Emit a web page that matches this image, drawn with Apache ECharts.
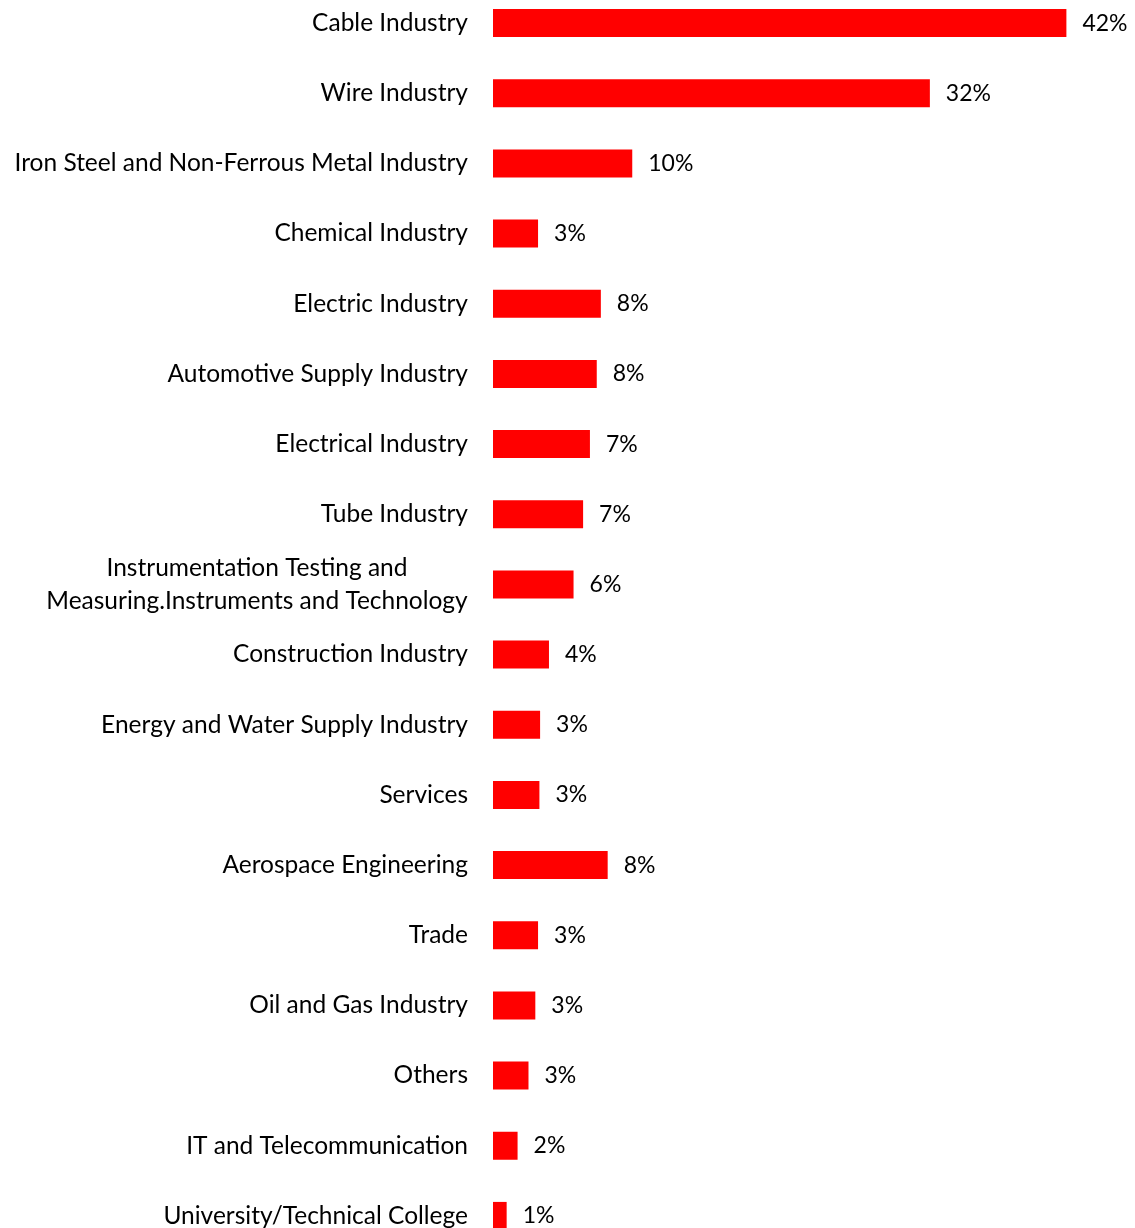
<!DOCTYPE html>
<html>
<head>
<meta charset="utf-8">
<style>
  html, body { margin: 0; padding: 0; background: #fff; overflow: hidden; width: 1135px; height: 1228px; }
  /* the plot bands run slightly past the page edges at top and bottom */
  #chart { position: absolute; left: 0; top: -12px; width: 1135px; height: 1263px; }
</style>
<script src="https://cdn.jsdelivr.net/npm/echarts@6/dist/echarts.min.js"></script>
</head>
<body>
<div id="chart"></div>
<script>
// Industries, listed top to bottom
const categories = [
  'Cable Industry',
  'Wire Industry',
  'Iron Steel and Non-Ferrous Metal Industry',
  'Chemical Industry',
  'Electric Industry',
  'Automotive Supply Industry',
  'Electrical Industry',
  'Tube Industry',
  'Instrumentation Testing and\nMeasuring.Instruments and Technology',
  'Construction Industry',
  'Energy and Water Supply Industry',
  'Services',
  'Aerospace Engineering',
  'Trade',
  'Oil and Gas Industry',
  'Others',
  'IT and Telecommunication',
  'University/Technical College'
];

// Share of customers per industry, in percent
const shares = [42.0, 32.0, 10.2, 3.3, 7.9, 7.6, 7.1, 6.6, 5.9, 4.1, 3.45, 3.4, 8.4, 3.3, 3.1, 2.6, 1.8, 1.0];

const FONT = 'Lato';
const CAT_SIZE = 24.5;
const VAL_SIZE = 23;

// width of the widest line of the two-line category, so its lines can be centred on each other
function widestLine(text) {
  const ctx = document.createElement('canvas').getContext('2d');
  ctx.font = CAT_SIZE + 'px ' + FONT;
  return Math.ceil(Math.max.apply(null, text.split('\n').map(function (s) { return ctx.measureText(s).width; })));
}
const multi = categories.filter(function (c) { return c.indexOf('\n') >= 0; });
const blockWidth = multi.length ? widestLine(multi[0]) : 0;

const chart = echarts.init(document.getElementById('chart'), null, { renderer: 'canvas' });

chart.setOption({
  animation: false,
  backgroundColor: '#ffffff',
  grid: { left: 493, right: 14, top: 0, bottom: 0, containLabel: false },
  xAxis: {
    type: 'value',
    min: 0,
    max: 46,
    show: false
  },
  yAxis: {
    type: 'category',
    inverse: true,
    data: categories,
    axisLine: { show: false },
    axisTick: { show: false },
    splitLine: { show: false },
    axisLabel: {
      margin: 25,
      color: '#000',
      fontFamily: FONT,
      fontSize: CAT_SIZE,
      lineHeight: 33,
      formatter: function (v) {
        if (v.indexOf('\n') < 0) return v;
        return v.split('\n').map(function (s) { return '{m|' + s + '}'; }).join('\n');
      },
      rich: {
        m: { width: blockWidth, align: 'center', color: '#000', fontFamily: FONT, fontSize: CAT_SIZE, lineHeight: 33 }
      }
    }
  },
  series: [{
    type: 'bar',
    data: shares,
    barWidth: 28,
    itemStyle: { color: '#ff0000' },
    label: {
      show: true,
      position: 'right',
      distance: 16,
      color: '#000',
      fontFamily: FONT,
      fontSize: VAL_SIZE,
      formatter: function (p) { return Math.round(p.value) + '%'; }
    }
  }]
});
</script>
</body>
</html>
